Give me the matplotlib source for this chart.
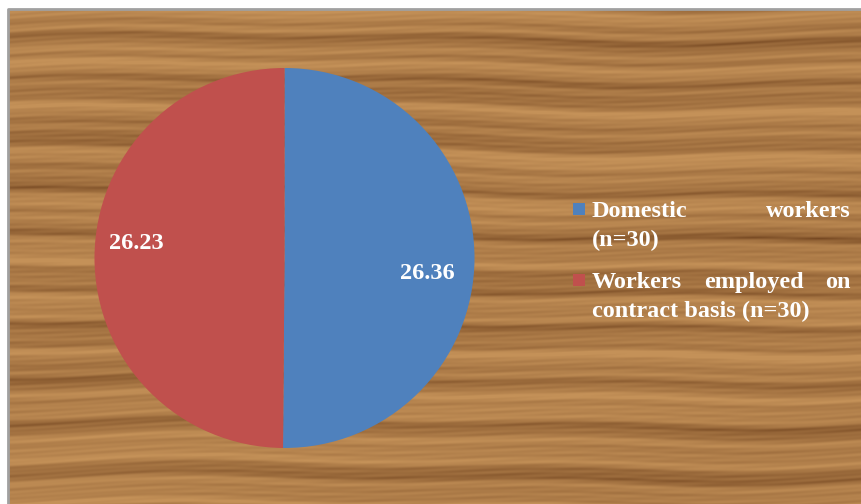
import numpy as np
import matplotlib
matplotlib.use('Agg')
import matplotlib.pyplot as plt
from matplotlib.patches import Rectangle

categories = ['Domestic workers (n=30)', 'Workers employed on contract basis (n=30)']
values = [26.36, 26.23]
value_labels = ['26.36', '26.23']
colors = ['#4f81bd', '#c0504d']

W, H = 862, 504
fig = plt.figure(figsize=(8.62, 5.04), dpi=100)
fig.patch.set_facecolor('white')
ax = fig.add_axes([0, 0, 1, 1])

# wood-grain backdrop (deterministic texture)
yy, xx = np.mgrid[0:495, 0:854].astype(float)
warp = 4.0 * np.sin(xx / 173.0 + 0.5) + 2.5 * np.sin(xx / 61.0 + yy / 90.0)
yw = yy + warp
t = (0.35 * np.sin(yw * 0.13 + 0.7)
     + 0.30 * np.sin(yw * 0.31 + 2.0 * np.sin(yw / 47.0))
     + 0.18 * np.sin(yw * 0.57 + 1.3)
     + 0.10 * np.sin(yw * 1.37 + xx / 35.0)
     + 0.08 * np.sin(xx / 13.0 + yy * 0.9)
     + 0.12 * np.sin(xx / 210.0 + yy / 33.0))
t = (t - t.min()) / (t.max() - t.min())
t = np.clip(0.15 + 0.95 * t ** 0.65, 0, 1)
dark = np.array([105, 60, 25]) / 255
light = np.array([196, 145, 88]) / 255
img = dark + (light - dark) * t[..., None]
ax.imshow(img, extent=(8, 862, 0, 495), origin='upper', zorder=0,
          aspect='auto', interpolation='bilinear')
ax.plot([8.5, 8.5, 862], [0, 495.5, 495.5], color='#a0a0a0', lw=2, zorder=1)

wedges, texts = ax.pie(values, colors=colors, startangle=90, counterclock=False,
                       center=(284.5, 246), radius=190, labels=value_labels,
                       labeldistance=0.78, frame=True,
                       wedgeprops=dict(linewidth=0),
                       textprops=dict(color='white', fontweight='bold',
                                      family='Liberation Serif', fontsize=17.5,
                                      ha='center', va='center'))
for w in wedges:
    w.set_zorder(2)
texts[0].set_position((427.5, H - 273.5))
texts[1].set_position((136.5, H - 243.5))
for tx in texts:
    tx.set_ha('center'); tx.set_va('center'); tx.set_zorder(3)

ax.set_xlim(0, W)
ax.set_ylim(0, H)
ax.set_aspect('auto')
ax.axis('off')

# legend with justified text
left, right = 592, 851
fs = 17.5
font = dict(color='white', fontweight='bold', family='Liberation Serif', fontsize=fs)
entries = [
    [["Domestic", "workers"], ["(n=30)"]],
    [["Workers", "employed", "on"], ["contract", "basis", "(n=30)"]],
]
baselines = [[H - 217, H - 246], [H - 288, H - 317]]
square_y = [H - 215, H - 286]
renderer = fig.canvas.get_renderer()
for i, entry in enumerate(entries):
    ax.add_patch(Rectangle((573, square_y[i]), 12, 12, facecolor=colors[i],
                           edgecolor='none', zorder=3))
    for j, words in enumerate(entry):
        y = baselines[i][j]
        last = (j == len(entry) - 1)
        if last:
            ax.text(left, y, " ".join(words), ha='left', va='baseline', zorder=3, **font)
            continue
        objs = [ax.text(0, y, wd, ha='left', va='baseline', zorder=3, **font) for wd in words]
        widths = [o.get_window_extent(renderer).width for o in objs]
        gap = (right - left - sum(widths)) / max(len(words) - 1, 1)
        x = left
        for o, wdt in zip(objs, widths):
            o.set_x(x)
            x += wdt + gap

fig.savefig('out.png', dpi=100, facecolor='white')
